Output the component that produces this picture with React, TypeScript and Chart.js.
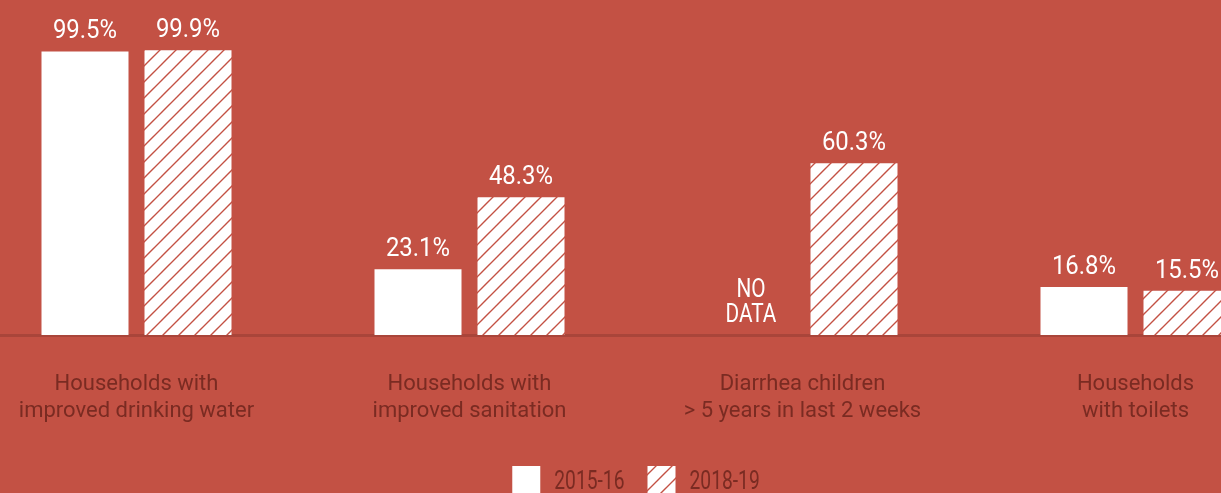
import React, { useEffect, useRef } from 'react';
import { Chart, registerables } from 'chart.js';

Chart.register(...registerables);

const categories: string[][] = [
  ['Households with', 'improved drinking water'],
  ['Households with', 'improved sanitation'],
  ['Diarrhea children', '> 5 years in last 2 weeks'],
  ['Households', 'with toilets'],
];
const series2015: (number | null)[] = [99.5, 23.1, null, 16.8];
const series2018: (number | null)[] = [99.9, 48.3, 60.3, 15.5];
const seriesLabels: string[] = ['2015-16', '2018-19'];
const yMax = 100;

const BG = '#C35144';
const DARK = '#7A2B22';
const AXIS = '#A9453A';
const FONT = 'Roboto, "Noto Sans", sans-serif';

const CANVAS_W = 1332;
const CANVAS_H = 493;
const CANVAS_LEFT = -30;

function makeHatch(ctx: CanvasRenderingContext2D): CanvasPattern | string {
  const c = document.createElement('canvas');
  const s = 16;
  c.width = s;
  c.height = s;
  const g = c.getContext('2d');
  if (!g) return '#fff';
  g.fillStyle = '#ffffff';
  g.fillRect(0, 0, s, s);
  g.strokeStyle = BG;
  g.lineWidth = 1.4;
  g.beginPath();
  g.moveTo(-2, s + 2);
  g.lineTo(s + 2, -2);
  g.moveTo(-2, 2);
  g.lineTo(2, -2);
  g.moveTo(s - 2, s + 2);
  g.lineTo(s + 2, s - 2);
  g.stroke();
  return ctx.createPattern(c, 'repeat') || '#fff';
}

function scaledText(ctx: CanvasRenderingContext2D, text: string, x: number, y: number, sx: number) {
  ctx.save();
  ctx.translate(x, y);
  ctx.scale(sx, 1);
  ctx.fillText(text, 0, 0);
  ctx.restore();
}

const valueLabels = {
  id: 'valueLabels',
  afterDatasetsDraw(chart: any) {
    const ctx: CanvasRenderingContext2D = chart.ctx;
    ctx.save();
    ctx.font = `26px ${FONT}`;
    ctx.fillStyle = '#ffffff';
    ctx.textAlign = 'center';
    ctx.textBaseline = 'alphabetic';
    chart.data.datasets.forEach((ds: any, di: number) => {
      const meta = chart.getDatasetMeta(di);
      meta.data.forEach((el: any, i: number) => {
        const v = ds.data[i];
        if (v === null || v === undefined) {
          scaledText(ctx, 'NO', el.x, el.y - 38, 0.8);
          scaledText(ctx, 'DATA', el.x, el.y - 13, 0.8);
        } else {
          scaledText(ctx, `${Number(v).toFixed(1)}%`, el.x, el.y - 13, 0.92);
        }
      });
    });
    ctx.restore();
  },
};

const customLegend = {
  id: 'customLegend',
  afterDraw(chart: any) {
    const ctx: CanvasRenderingContext2D = chart.ctx;
    const area = chart.chartArea;
    const cx = (area.left + area.right) / 2;
    const box = 28;
    const gapText = 14;
    const gapItem = 23;
    const sx = 0.77;
    ctx.save();
    ctx.font = `25px ${FONT}`;
    const items = chart.data.datasets.map((ds: any) => ({
      label: ds.label as string,
      fill: ds.backgroundColor,
      w: ctx.measureText(ds.label).width * sx,
    }));
    const total =
      items.reduce((a: number, it: any) => a + box + gapText + it.w, 0) + gapItem * (items.length - 1);
    let x = cx - total / 2;
    const boxTop = area.bottom + 131;
    ctx.textAlign = 'left';
    ctx.textBaseline = 'alphabetic';
    items.forEach((it: any) => {
      ctx.fillStyle = it.fill;
      ctx.fillRect(x, boxTop, box, box);
      ctx.fillStyle = DARK;
      scaledText(ctx, it.label, x + box + gapText, boxTop + 22.5, sx);
      x += box + gapText + it.w + gapItem;
    });
    ctx.restore();
  },
};

export default function App() {
  const ref = useRef<HTMLCanvasElement | null>(null);

  useEffect(() => {
    document.body.style.margin = '0';
    document.body.style.background = BG;
    const canvas = ref.current;
    if (!canvas) return;
    const ctx = canvas.getContext('2d');
    if (!ctx) return;
    const hatch = makeHatch(ctx);

    const chart = new Chart(ctx, {
      type: 'bar',
      data: {
        labels: categories,
        datasets: [
          {
            label: seriesLabels[0],
            data: series2015,
            backgroundColor: '#ffffff',
            borderWidth: 0,
            categoryPercentage: 0.6186,
            barPercentage: 0.8447,
          },
          {
            label: seriesLabels[1],
            data: series2018,
            backgroundColor: hatch as any,
            borderWidth: 0,
            categoryPercentage: 0.6186,
            barPercentage: 0.8447,
          },
        ],
      },
      options: {
        responsive: false,
        animation: false,
        devicePixelRatio: 1,
        layout: { padding: { top: 50, left: 0, right: 0, bottom: 0 } },
        plugins: {
          legend: { display: false },
          tooltip: { enabled: false },
        },
        scales: {
          x: {
            grid: { display: false, drawTicks: false },
            border: { display: true, color: AXIS, width: 3 },
            ticks: {
              color: DARK,
              font: { family: FONT, size: 22, lineHeight: 1.227 },
              padding: 36,
              maxRotation: 0,
              minRotation: 0,
              autoSkip: false,
            },
            afterFit: (s: any) => {
              s.height = 158;
            },
          },
          y: {
            display: false,
            min: 0,
            max: yMax,
          },
        },
      },
      plugins: [valueLabels, customLegend],
    } as any);

    return () => chart.destroy();
  }, []);

  return (
    <div
      style={{
        position: 'fixed',
        top: 0,
        left: 0,
        width: 1221,
        height: 493,
        overflow: 'hidden',
        background: BG,
      }}
    >
      <canvas
        ref={ref}
        width={CANVAS_W}
        height={CANVAS_H}
        style={{ position: 'absolute', left: CANVAS_LEFT, top: 0, width: CANVAS_W, height: CANVAS_H }}
      />
    </div>
  );
}
